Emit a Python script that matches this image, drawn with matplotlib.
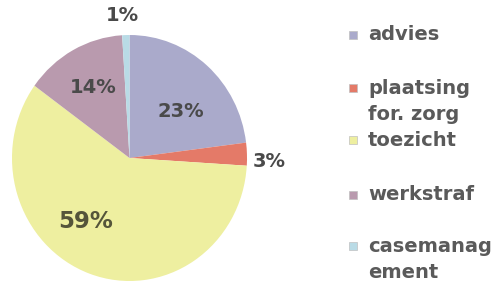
import matplotlib
matplotlib.use('Agg')
import matplotlib.pyplot as plt
from matplotlib.patches import Rectangle

# data
categories = ['advies', 'plaatsing\nfor. zorg', 'toezicht', 'werkstraf', 'casemanag\nement']
shares = [23, 3, 59, 14, 1]
colors = ['#aaaacb', '#e47a68', '#eeefa0', '#b99aae', '#b9dbe6']

W, H = 494, 283
fig = plt.figure(figsize=(W / 100, H / 100), dpi=100)
fig.patch.set_facecolor('white')

# pie box in pixels: left 12, right 247, top 35, bottom 281
ax = fig.add_axes([12 / W, (H - 281) / H, 235 / W, 246 / H])
wedges, texts, autotexts = ax.pie(
    shares, colors=colors, startangle=90, counterclock=False,
    autopct='%1.0f%%', textprops=dict(fontsize=14, fontweight='bold', color='#4a4a4a'),
    wedgeprops=dict(linewidth=0), radius=1, frame=False)
ax.set_xlim(-1, 1)
ax.set_ylim(-1, 1)
ax.set_aspect('auto')
ax.axis('off')

# label positions (pie units)
label_xy = [(0.44, 0.38), (1.19, -0.03), (-0.37, -0.52), (-0.31, 0.57), (-0.06, 1.16)]
for t, (x, y) in zip(autotexts, label_xy):
    t.set_position((x, y))
    t.set_ha('center')
    t.set_va('center')
autotexts[2].set_fontsize(16.5)
autotexts[2].set_color('#55553a')

# legend drawn by hand
leg_y = [35, 88, 140, 195, 246]
for lab, col, y in zip(categories, colors, leg_y):
    fig.patches.append(Rectangle(((353 - 4) / W, (H - y - 4) / H), 8 / W, 8 / H,
                                 transform=fig.transFigure, facecolor=col,
                                 edgecolor='#c0c0c0', linewidth=0.5))
    for i, line in enumerate(lab.split('\n')):
        fig.text(368 / W, (H - y - i * 27) / H, line, fontsize=14, fontweight='bold',
                 color='#5a5a5a', ha='left', va='center')

fig.savefig('out.png', dpi=100, facecolor='white')
